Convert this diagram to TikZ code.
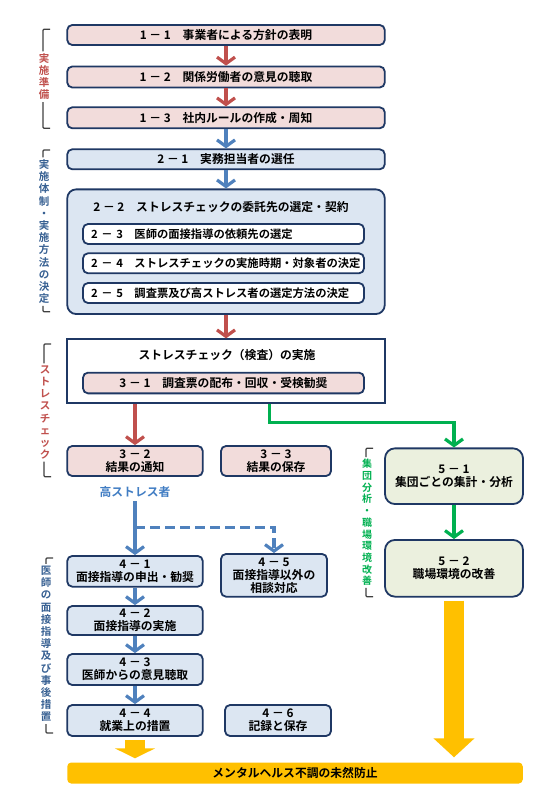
\documentclass[tikz,border=0pt]{standalone}
\usepackage{fontspec}
\setmainfont{Noto Sans CJK JP}[BoldFont={Noto Sans CJK JP Bold}]
\usetikzlibrary{arrows.meta, positioning}
\definecolor{boxline}{RGB}{31,56,100}
\definecolor{pinkbg}{RGB}{242,220,219}
\definecolor{bluebg}{RGB}{220,230,242}
\definecolor{greenbg}{RGB}{235,240,222}
\definecolor{arrowred}{RGB}{192,80,77}
\definecolor{arrowblue}{RGB}{79,129,189}
\definecolor{arrowgreen}{RGB}{0,176,80}
\definecolor{arrowyellow}{RGB}{255,192,0}
\definecolor{labelblue}{RGB}{55,96,146}
\definecolor{hsblue}{RGB}{65,125,195}
\definecolor{bracketgray}{RGB}{64,64,64}

\begin{document}
\begin{tikzpicture}[x=1pt, y=-1pt,
    every node/.style={font=\fontsize{11.8}{13}\selectfont\bfseries, inner sep=0pt, align=center},
    stepbox/.style={draw=boxline, line width=1.8pt, rounded corners=5pt, minimum height=20pt},
    pinkbox/.style={stepbox, fill=pinkbg},
    bluebox/.style={stepbox, fill=bluebg},
    greenbox/.style={stepbox, fill=greenbg, rounded corners=10pt},
    innerbox/.style={stepbox, fill=white, text width=265pt, inner xsep=8pt, align=left,
        font=\fontsize{11.3}{13}\selectfont\bfseries},
    wide/.style={minimum width=317.5pt},
    sidelabel/.style={font=\fontsize{10.5}{12.2}\selectfont\bfseries, inner sep=2pt},
    bracket/.style={draw=bracketgray, line width=1.2pt, rounded corners=1pt},
    rline/.style={draw=arrowred, line width=3.2pt, -{Straight Barb[length=6.5pt, width=18pt]}},
    bline/.style={draw=arrowblue, line width=3.2pt, -{Straight Barb[length=6.5pt, width=18pt]}},
    bdash/.style={bline, dash pattern=on 10pt off 5pt},
    gline/.style={draw=arrowgreen, line width=3.2pt, -{Straight Barb[length=6.5pt, width=18pt]}},
    yline/.style={draw=arrowyellow, line width=20pt, -{Triangle[length=#1, width=40pt]}}]
    \useasboundingbox (0,0) rectangle (549,805);

    % 1: preparation
    \node[pinkbox, wide] (s11) at (226,35) {1 － 1　事業者による方針の表明};
    \node[pinkbox, wide, minimum height=21pt] (s12) at (226,77) {1 － 2　関係労働者の意見の聴取};
    \node[pinkbox, wide, minimum height=21pt] (s13) at (226,117.8) {1 － 3　社内ルールの作成・周知};
    \draw[rline] (s11) -- (s12);
    \draw[rline] (s12) -- (s13);

    % 2: setup
    \node[bluebox, wide] (s21) at (226,159.3) {2 － 1　実務担当者の選任};
    \node[bluebox, wide, minimum height=124.7pt, rounded corners=9pt] (s22) at (226,251.7) {};
    \node (t22) at (221,206.7) {2 － 2　ストレスチェックの委託先の選定・契約};
    \node[innerbox] (s23) at (223.5,234) {2 － 3　医師の面接指導の依頼先の選定};
    \node[innerbox] (s24) at (223.5,263.3) {2 － 4　ストレスチェックの実施時期・対象者の決定};
    \node[innerbox] (s25) at (223.5,293) {2 － 5　調査票及び高ストレス者の選定方法の決定};
    \draw[bline] (s13) -- (s21);
    \draw[bline] (s21) -- (s22);

    % 3: stress check
    \node[draw=boxline, line width=1.8pt, fill=white, wide, minimum height=64pt] (s3) at (226,371.3) {};
    \node (t3) at (227,355) {ストレスチェック（検査）の実施};
    \node[pinkbox, minimum width=281pt, minimum height=20.7pt] (s31) at (223.5,383) {3 － 1　調査票の配布・回収・受検勧奨};
    \node[pinkbox, minimum width=135.5pt, minimum height=30pt] (s32) at (135,461) {3 － 2\\結果の通知};
    \node[pinkbox, minimum width=110pt, minimum height=30pt] (s33) at (276,461) {3 － 3\\結果の保存};
    \draw[rline] (s22) -- (s3);
    \draw[rline] (s3.south -| s32.north) -- (s32.north);

    % 5: group analysis
    \node[greenbox, minimum width=138pt, minimum height=55.7pt] (s51) at (454,476.2) {5 － 1\\集団ごとの集計・分析};
    \node[greenbox, minimum width=138pt, minimum height=56.7pt] (s52) at (454,568.3) {5 － 2\\職場環境の改善};
    \draw[gline] ([xshift=43.5pt]s3.south) -- ++(0,18.4) -| (s51.north);
    \draw[gline] (s51) -- (s52);

    % 4: interview
    \node[text=hsblue] (hs) at (135,491.7) {高ストレス者};
    \node[bluebox, minimum width=135.5pt, minimum height=30.7pt] (s41) at (135,571.3) {4 － 1\\面接指導の申出・勧奨};
    \node[bluebox, minimum width=106pt, minimum height=42.7pt] (s45) at (274,575.3) {4 － 5\\面接指導以外の\\相談対応};
    \node[bluebox, minimum width=135.5pt, minimum height=29pt] (s42) at (135,620.5) {4 － 2\\面接指導の実施};
    \node[bluebox, minimum width=135.5pt, minimum height=31pt] (s43) at (135,669.5) {4 － 3\\医師からの意見聴取};
    \node[bluebox, minimum width=135.5pt, minimum height=31pt] (s44) at (135,720.5) {4 － 4\\就業上の措置};
    \node[bluebox, minimum width=106pt, minimum height=31pt] (s46) at (278,720.5) {4 － 6\\記録と保存};
    \coordinate (fork) at (135,527.3);
    \draw[bline] ([yshift=-4pt]hs.south) -- (s41.north);
    \draw[bdash] (fork) -| (s45.north);
    \draw[bline] (s41) -- (s42);
    \draw[bline] (s42) -- (s43);
    \draw[bline] (s43) -- (s44);

    % goal
    \node[fill=arrowyellow, rounded corners=4pt, minimum width=455.5pt, minimum height=21pt] (bar) at (295,773) {メンタルヘルス不調の未然防止};
    \draw[yline=10pt, shorten <=3pt, shorten >=4pt] (s44.south) -- (s44.south |- bar.north);
    \draw[yline=19pt, shorten <=3pt, shorten >=5pt] (s52.south) -- (s52.south |- bar.north);

    % side labels
    \node[sidelabel, text=arrowred] (lprep) at (44,76.7) {実\\施\\準\\備};
    \node[sidelabel, text=labelblue] (lsetup) at (44,231.7) {実\\施\\体\\制\\・\\実\\施\\方\\法\\の\\決\\定};
    \node[sidelabel, text=arrowred] (lcheck) at (45,412.5) {ス\\ト\\レ\\ス\\チ\\ェ\\ッ\\ク};
    \node[sidelabel, text=arrowgreen, font=\fontsize{10}{11.7}\selectfont\bfseries] (lgroup) at (367,522.5) {集\\団\\分\\析\\・\\職\\場\\環\\境\\改\\善};
    \node[sidelabel, text=labelblue] (lmed) at (46,644) {医\\師\\の\\面\\接\\指\\導\\及\\び\\事\\後\\措\\置};
    \coordinate (bpt) at (43,29.3);  \coordinate (bpb) at (43,128.3);
    \coordinate (bst) at (43,150);   \coordinate (bsb) at (43,311.7);
    \coordinate (bct) at (44,344);   \coordinate (bcb) at (44,476.7);
    \coordinate (bgt) at (366,448.3); \coordinate (bgb) at (366,596.7);
    \coordinate (bmt) at (46,558);   \coordinate (bmb) at (46,733);
    \foreach \lbl/\top/\bot in {lprep/bpt/bpb, lsetup/bst/bsb, lcheck/bct/bcb, lgroup/bgt/bgb, lmed/bmt/bmb} {
        \draw[bracket] ([xshift=7pt]\top) -- (\top) -- (\top |- \lbl.north);
        \draw[bracket] (\bot |- \lbl.south) -- (\bot) -- ([xshift=7pt]\bot);
    }
\end{tikzpicture}
\end{document}
